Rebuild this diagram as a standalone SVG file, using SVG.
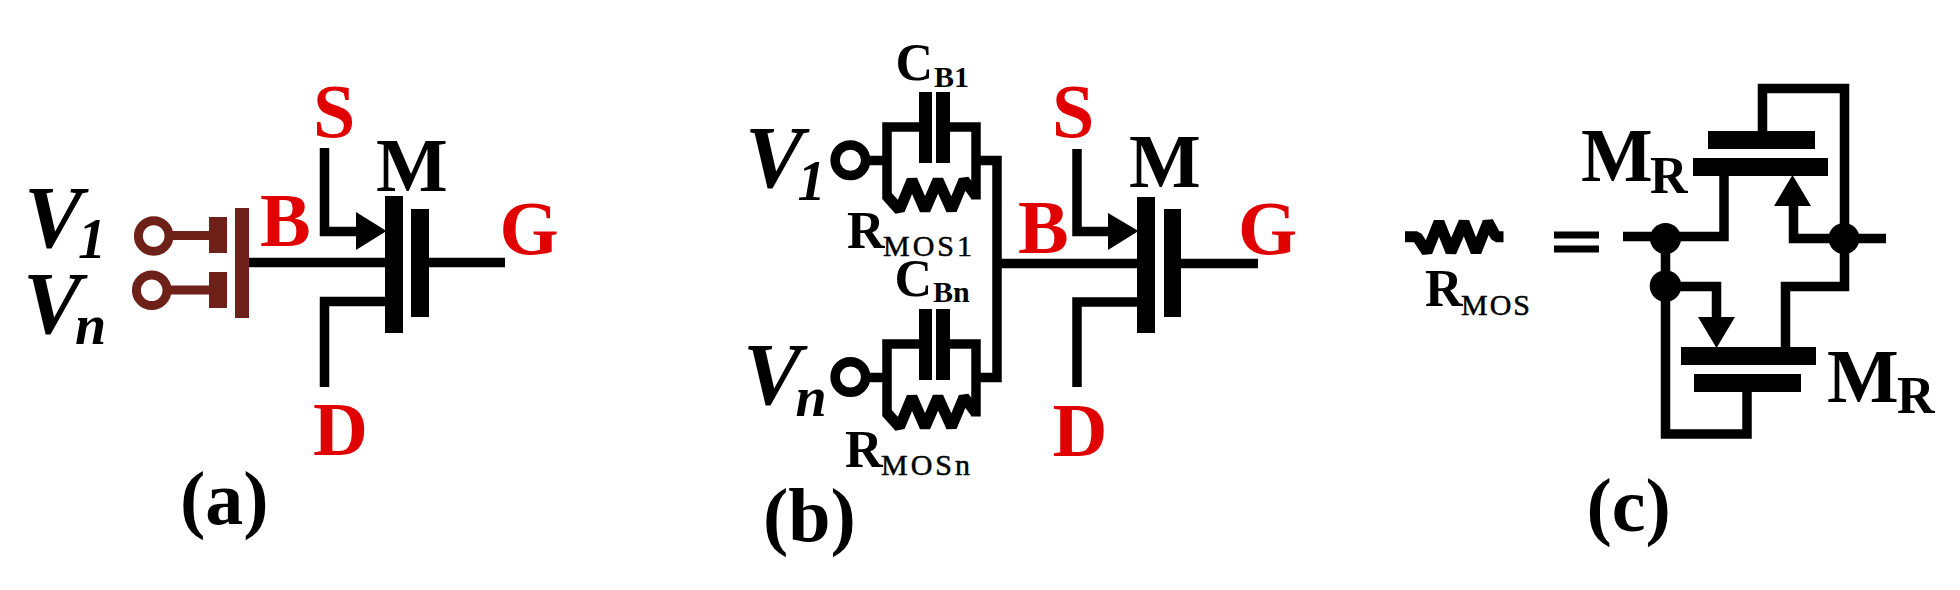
<svg xmlns="http://www.w3.org/2000/svg" width="1960" height="590" viewBox="0 0 1960 590">
<style>
text{font-family:"Liberation Serif","Times New Roman",serif;font-weight:bold;fill:#000}
.r{fill:#e00000;font-size:76px}
.k{font-size:76px}
.v{font-size:88px;font-style:italic}
.vs{font-size:56px;font-style:italic}
.l{font-size:52px}
.s{font-size:30px}
.sp{font-size:30px;font-weight:normal;letter-spacing:3px;stroke:#000;stroke-width:.5px}
.sq{font-size:30px;font-weight:normal;letter-spacing:2px;stroke:#000;stroke-width:.5px}
.w{fill:none;stroke:#000;stroke-width:9.500}
.z{fill:none;stroke:#000;stroke-width:11;stroke-linejoin:bevel}
.b{fill:none;stroke:#6e2119;stroke-width:9}
.bf{fill:#6e2119}
.f{fill:#000}
.c{fill:#fff;stroke:#000;stroke-width:9.500}
</style>
<defs>
<path id="zig" class="z" d="M0 -4 L12.500 10 L25 -20 L38 10 L51 -20 L64.500 10 L77 -20 L89 -4"/>
</defs>
<g id="connectors">
<!-- panel a -->
<path class="w" d="M324.500 148V231.500H358"/>
<path class="w" d="M249 262.500H385"/>
<path class="w" d="M429 262.500H505"/>
<path class="w" d="M385 301.500H324.500V387"/>
<path class="b" d="M172 235.500H209"/>
<path class="b" d="M170 290H209"/>
<!-- panel b -->
<path class="w" d="M1077 149V231.500H1110"/>
<path class="w" d="M997 263.500H1137"/>
<path class="w" d="M1181 263.500H1258"/>
<path class="w" d="M1137 302H1077V387"/>
<path class="w" d="M976 160.500H997V377.500H976"/>
<path class="w" d="M869 160.500H887"/>
<path class="w" d="M869 377.500H887"/>
<path class="w" d="M919 127H887V199.500"/>
<path class="w" d="M950 127H976V199.500"/>
<path class="w" d="M919 344H887V416.500"/>
<path class="w" d="M950 344H976V416.500"/>
<!-- panel c -->
<path class="w" d="M1762.500 131V88.500H1844.500V238.500"/>
<path class="w" d="M1623 236.500H1724V176"/>
<path class="w" d="M1793.500 204V238.500H1886"/>
<path class="w" d="M1665.500 238.500V434H1747V392"/>
<path class="w" d="M1665.500 286.500H1716.500V319"/>
<path class="w" d="M1844.500 238.500V286.500H1785.500V347"/>
</g>
<g id="panel-a">
<g id="a-mosfet">
<rect class="f" x="385" y="196" width="18" height="137"/>
<rect class="f" x="411" y="209" width="18" height="108"/>
<polygon class="f" points="356,212 386.500,231 356,250"/>
</g>
<g id="a-floating-gates">
<rect class="bf" x="235" y="208" width="14" height="110"/>
<rect class="bf" x="209" y="217" width="18" height="36"/>
<rect class="bf" x="209" y="272" width="18" height="36"/>
<circle cx="153.700" cy="236" r="15.300" fill="#fff" class="b"/>
<circle cx="151.700" cy="290.300" r="15.300" fill="#fff" class="b"/>
</g>
<g id="a-labels">
<text class="r" x="313" y="136.500">S</text>
<text class="k" x="376" y="191">M</text>
<text class="r" x="260" y="246">B</text>
<text class="r" x="499.500" y="254">G</text>
<text class="r" x="313" y="455">D</text>
<text class="v" x="24" y="247">V<tspan class="vs" x="78" y="258">1</tspan></text>
<text class="v" x="23" y="333">V<tspan class="vs" x="75" y="344">n</tspan></text>
<text class="k" x="180" y="524">(a)</text>
</g>
</g>
<g id="panel-b">
<g id="b-mosfet">
<rect class="f" x="1137" y="197" width="18" height="136"/>
<rect class="f" x="1164" y="209" width="17" height="108"/>
<polygon class="f" points="1108,213 1138.500,231 1108,250"/>
</g>
<g id="b-branch-1">
<circle cx="850.400" cy="160.300" r="15.300" class="c"/>
<rect class="f" x="919" y="92" width="13" height="71"/>
<rect class="f" x="936" y="92" width="14" height="71"/>
<use href="#zig" x="887" y="200"/>
</g>
<g id="b-branch-n">
<circle cx="850.400" cy="377" r="15.300" class="c"/>
<rect class="f" x="919" y="309" width="13" height="71"/>
<rect class="f" x="936" y="309" width="14" height="71"/>
<use href="#zig" x="887" y="417"/>
</g>
<g id="b-labels">
<text class="r" x="1052" y="137">S</text>
<text class="k" x="1129" y="187">M</text>
<text class="r" x="1018" y="253">B</text>
<text class="r" x="1238" y="254">G</text>
<text class="r" x="1052.500" y="456">D</text>
<text class="v" x="745" y="187">V<tspan class="vs" x="797.500" y="200">1</tspan></text>
<text class="v" x="743" y="404">V<tspan class="vs" x="795.500" y="416">n</tspan></text>
<text class="l" x="895.500" y="79.500">C<tspan class="s" x="934" y="87">B1</tspan></text>
<text class="l" x="847" y="248">R<tspan class="sp" x="883" y="256">MOS1</tspan></text>
<text class="l" x="894.500" y="296">C<tspan class="s" x="933" y="302">Bn</tspan></text>
<text class="l" x="845" y="467">R<tspan class="sp" x="881" y="475">MOSn</tspan></text>
<text class="k" x="763" y="541">(b)</text>
</g>
</g>
<g id="panel-c">
<g id="c-resistor">
<path class="z" d="M1405 236.700H1417L1427 252L1439 222L1451 252L1464 222L1476 252L1488 222L1496 236.700H1503.500"/>
</g>
<g id="c-equals">
<rect class="f" x="1554" y="231.500" width="45" height="7"/>
<rect class="f" x="1554" y="245.500" width="45" height="7"/>
</g>
<g id="c-mos-top">
<rect class="f" x="1708" y="131" width="107" height="18"/>
<rect class="f" x="1693" y="158" width="135" height="18"/>
<polygon class="f" points="1774,206 1792.500,175 1811,206"/>
</g>
<g id="c-mos-bottom">
<rect class="f" x="1681" y="347" width="135" height="18"/>
<rect class="f" x="1694" y="374" width="107" height="18"/>
<polygon class="f" points="1698,317 1716.500,348 1735,317"/>
</g>
<g id="c-junctions">
<circle class="f" cx="1665.500" cy="238.500" r="15.500"/>
<circle class="f" cx="1844" cy="238.500" r="15.500"/>
<circle class="f" cx="1665.500" cy="286" r="15.800"/>
</g>
<g id="c-labels">
<text class="l" x="1425" y="306">R<tspan class="sq" x="1461" y="315">MOS</tspan></text>
<text class="k" x="1581" y="181">M<tspan class="l" x="1650" y="193">R</tspan></text>
<text class="k" x="1827" y="402">M<tspan class="l" x="1897" y="413">R</tspan></text>
<text class="k" x="1586.500" y="531">(c)</text>
</g>
</g>
</svg>
